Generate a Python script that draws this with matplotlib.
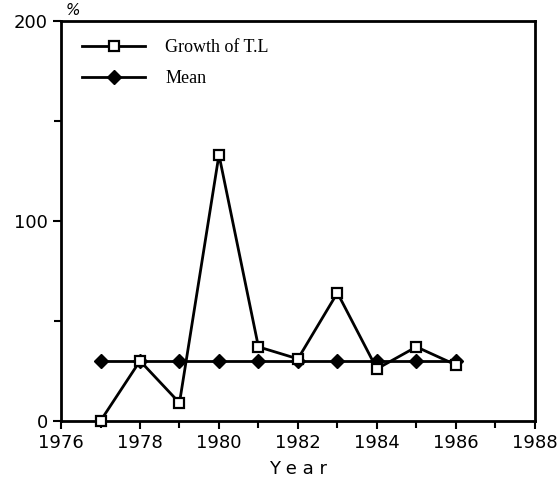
import numpy as np
import matplotlib
matplotlib.use('Agg')
import matplotlib.pyplot as plt
from matplotlib.ticker import MultipleLocator

# values
years = [1977, 1978, 1979, 1980, 1981, 1982, 1983, 1984, 1985, 1986]
growth_tl = [0, 30, 9, 133, 37, 31, 64, 26, 37, 28]
mean_tl = [30, 30, 30, 30, 30, 30, 30, 30, 30, 30]

fig = plt.figure(figsize=(5.6, 4.94), dpi=100)
ax = fig.add_axes([0.109, 0.148, 0.846, 0.81])

ax.plot(years, mean_tl, color='black', lw=2, marker='D', ms=7.5,
        mfc='black', mec='black', label='Mean', clip_on=False, zorder=3)
ax.plot(years, growth_tl, color='black', lw=2, marker='s', ms=6.5,
        mfc='white', mec='black', mew=1.6, label='Growth of T.L',
        clip_on=False, zorder=4)

ax.set_xlim(1976, 1988)
ax.set_ylim(0, 200)
ax.xaxis.set_major_locator(MultipleLocator(2))
ax.xaxis.set_minor_locator(MultipleLocator(1))
ax.yaxis.set_major_locator(MultipleLocator(100))
ax.yaxis.set_minor_locator(MultipleLocator(50))
ax.tick_params(which='both', direction='out', width=1.5, labelsize=13)
ax.tick_params(which='major', length=6)
ax.tick_params(which='minor', length=5)
for s in ax.spines.values():
    s.set_linewidth(2)

ax.set_xlabel('Y e a r', fontsize=13, labelpad=6)
ax.text(0.01, 1.008, '%', transform=ax.transAxes, fontsize=11,
        style='italic', ha='left', va='bottom')

handles, labels = ax.get_legend_handles_labels()
ax.legend(handles[::-1], labels[::-1], loc='upper left', frameon=False,
          prop={'family': 'Liberation Serif', 'size': 13},
          handlelength=3.5, handletextpad=1.1, labelspacing=0.8,
          bbox_to_anchor=(0.01, 0.995))

fig.savefig('out.png', dpi=100)
